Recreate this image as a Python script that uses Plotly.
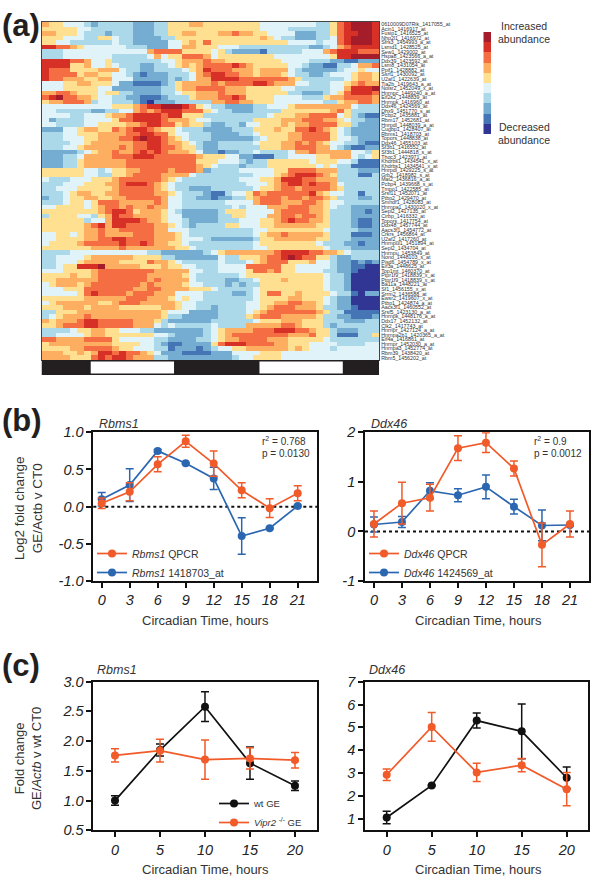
import plotly.graph_objects as go

W, H = 600, 880

heat_rows = [
"65544432 33333222 33555665 55555554 44444443 35789998",
"55555443 33333222 33555555 55555554 44433333 35789998",
"66555433 32333222 33556655 56676655 44442223 35788998",
"55544433 55433222 23355555 55555556 54332223 34789998",
"55443333 33433222 22445657 55555555 55544443 44789998",
"88776544 44443332 22446655 54443333 33333322 34678888",
"33344444 44444446 77775555 45322221 33333444 67888777",
"33344444 44333334 64557776 45555555 54444444 45889999",
"88887764 45333333 34456667 66555555 55444433 32211222",
"88885564 45433322 33456567 77787655 55544322 11334667",
"87775555 66643322 33334568 77766656 66643222 22344544",
"87777566 55443212 22333467 88776656 66543322 34445665",
"87766655 66444222 22323466 88887777 77765333 33345665",
"44455665 55422111 12356666 76777788 76664433 34456766",
"44455555 44222222 23356677 77666555 55443333 34468889",
"66776555 45533222 23345566 67666555 55533222 34578887",
"78977665 44332211 12333566 67787555 54444333 56677776",
"56677763 44333210 22233333 66776655 54444444 33566776",
"44444444 44555678 89998754 33222233 44456666 66664333",
"44333332 23344676 78887775 43322233 33555555 56753333",
"44443344 45667888 87885553 33333333 45556677 77453211",
"42333344 44577888 87666544 33333355 55666777 66543322",
"44333344 55556678 87756553 22332445 55656677 77553222",
"22244566 55767887 65543332 22233355 56557787 65432222",
"33344555 66667788 77544333 22223345 55566777 75432222",
"33344455 66677898 87654333 22222234 55566777 75443222",
"33334456 66666778 87665432 23333345 55667676 54433211",
"33344566 66676778 87765532 23333335 55667776 64321122",
"22222345 66766787 87666542 21223343 33346676 66664435",
"22233466 66777888 77777765 55442211 13344445 56664345",
"22233566 66667777 77777755 54443233 55555545 55443111",
"22233566 66667777 77777765 43332333 55555554 54331111",
"55555544 34556677 77677762 33334444 45577776 66333222",
"55555544 33556777 76666433 33333344 45678887 65333113",
"43334445 55677777 76543333 33334445 56888776 66333333",
"33344455 56678887 65433333 33333444 56788787 76433333",
"33444555 55677777 65433222 33333345 56776777 76533333",
"33345665 56677777 66543332 11344576 77777786 54433133",
"23345566 55667777 76443322 12233567 77677677 65333223",
"33345545 77766666 76443333 33444467 77666776 54433333",
"44555545 67767667 66443333 33343444 66677766 54332222",
"55555555 67887566 65432222 23555444 46777766 53332212",
"35555443 56877666 65442222 23355444 66776776 53332222",
"55555534 46888876 65443222 23334445 56787766 53332112",
"55555567 86887777 66543233 33554445 56666665 53332112",
"55555566 76677777 66444333 33333344 55555555 43333222",
"44554566 76666777 66654333 33333345 66766666 53331112",
"44555566 77887777 66654443 22222235 56666665 53332222",
"45555677 77787787 66554333 33333345 55555554 33322122",
"55555556 66676666 66655433 33333344 55555555 43332222",
"33334444 44444443 32222223 45666666 67888877 66543333",
"33444456 66666555 53322222 24335556 77898775 53223333",
"33444566 66655557 66543333 34333456 77755564 43221212",
"33455888 96666655 56554433 34444777 77554444 43221100",
"44455556 77777777 66666443 34444577 67554444 33221000",
"55556556 77777776 66665433 33334555 55555555 43320000",
"55666666 77777776 76666433 33223345 55655555 43320000",
"45666567 77777767 66665443 33232335 55555555 43320000",
"44455577 77777667 76666555 43333345 55555555 43320000",
"44444578 77776777 66644443 33322345 77556555 54331022",
"55555566 66667776 66545443 33333345 55566555 43220000",
"45666666 55677766 66654433 33333445 56677665 43220000",
"55566656 66655555 56654433 23333445 67776665 33221000",
"33555666 66666666 65444222 23333456 77777776 53311111",
"34566676 66666666 65332222 23333567 77666665 33221112",
"65666788 77777666 53222222 33333345 55666555 33322233",
"55677788 77777666 43433333 43333666 66776555 32333333",
"33334556 65544433 22222223 45666677 78887765 53222333",
"33444456 65555555 44322223 45677777 77766675 53111335",
"77666677 77544444 33222233 45667777 66655555 43333333",
"56666666 66555544 32112222 57888777 76655544 44333344",
"55556677 77655444 33122212 34455666 66656544 43444444",
"66655656 88787765 42221111 22244445 55444444 44444444",
"66665557 87887666 33222222 22234455 55444444 44444444",
]

probe_labels = [
"0610009D07Rik_1417055_at","Acin1_1416917_at","Fusip1_1416525_at","Nhp2l1_1416972_at","Sfrs3_1454993_a_at",
"Lsmd1_1428525_at","Sew1_1429002_at","Hspa8_1423566_a_at","Ddx39_1423592_at","Lsm8_1431054_at",
"Ppif1_1428882_at","Ssrf1_1430092_at","U2af1_1422639_at","Tia2b_1419643_a_at","Nolsr2_1452049_x_at",
"Hnrnpc_1449240_a_at","Eif2s2_1448839_at","Hnrnpk_1416960_at","Ddx46_1424569_at","Dhx9_1451770_s_at",
"Pcbp2_1435881_at","Rbm17_1452681_at","Hnrpdl_1448039_a_at","Cugbp1_1428407_at","Rbms1_1418703_at",
"Topors_1448838_at","Ddx46_1455103_at","Sf3b1_1416552_at","Sf3b1_1444818_s_at","Thoc3_1423971_at",
"Khdrbs1_1434541_x_at","Khdrbs1_1434541_x_at","Hnrpdl_1429225_s_at","Grb2_1418982_s_at","Mat2_1436816_a_at",
"Pcbp4_1439668_s_at","Tmpo1_1422585_at","Srsf11_1452071_at","Ptbp2_1429470_at","Smndr1_1428083_at",
"Hnrnpa1_1430020_x_at","Sepl2_1417135_at","Cirbp_1416332_at","Topors_1417754_at","Ddx48_1457744_at",
"Aacs3f1_1454772_at","Crkrs_1456864_at","U2af2_1417260_at","Hnrnpul1_1451894_at","Sepl2_1434704_at",
"Hnrnpu_1453849_at","Nono_1448103_s_at","Pisd6_1454789_x_at","Eif3a_1448625_at","Top1mt_1460370_at",
"Ptpr1f9_1418839_x_at","Ptpr1f9_1418839_x_at","Ba11a_1448221_at","Sf1_1456155_x_at","Srrm2_1436588_at",
"Ewsr2_1419607_x_at","Ptbp1_1424874_a_at","Aacs3f1_1460552_at","Srsf5_1423130_a_at","Hnrnpk_1448176_a_at",
"Ddx17_1452132_at","Clk2_1417743_at","Hnrnpr_1427124_a_at","Hnrnpa2b1_1420365_a_at","Eif4a_1416861_at",
"Hnrnpr_1452030_a_at","Hnrnpa3_1452774_at","Rbm39_1438420_at","Rbm5_1456202_at",
]

level_colors = ["#313695","#4575b4","#74add1","#abd9e9","#e0f3f8","#fee090","#fdae61","#f46d43","#d73027","#a51c2a"]
legend_levels = [[9],[8],[7],[6],[5],[4],[3],[2],[1],[0]]

phase_starts = [7, 31]
phase_widths = [11.85, 11.85]

ct_b = [0, 3, 6, 9, 12, 15, 18, 21]
ct_c = [0, 5, 10, 15, 20]

b1_qpcr = [0.045, 0.20, 0.57, 0.88, 0.58, 0.22, -0.02, 0.18]
b1_qpcr_err = [0.07, 0.12, 0.10, 0.08, 0.17, 0.10, 0.125, 0.10]
b1_array = [0.10, 0.29, 0.75, 0.585, 0.38, -0.395, -0.29, 0.01]
b1_array_err = [0.09, 0.22, 0.02, 0.01, 0.15, 0.245, 0.01, 0.01]

b2_qpcr = [0.15, 0.57, 0.68, 1.68, 1.79, 1.27, -0.27, 0.15]
b2_qpcr_err = [0.26, 0.42, 0.27, 0.25, 0.20, 0.15, 0.44, 0.26]
b2_array = [0.14, 0.19, 0.82, 0.73, 0.90, 0.50, 0.12, 0.13]
b2_array_err = [0.15, 0.11, 0.16, 0.13, 0.24, 0.15, 0.31, 0.02]

c1_wt = [1.0, 1.85, 2.58, 1.63, 1.25]
c1_wt_err = [0.08, 0.10, 0.25, 0.27, 0.08]
c1_ko = [1.76, 1.84, 1.69, 1.71, 1.68]
c1_ko_err = [0.11, 0.19, 0.33, 0.18, 0.13]

c2_wt = [1.06, 2.46, 5.30, 4.83, 2.80]
c2_wt_err = [0.27, 0.02, 0.33, 1.20, 0.47]
c2_ko = [2.93, 5.02, 3.03, 3.35, 2.30]
c2_ko_err = [0.25, 0.63, 0.40, 0.29, 0.73]

ORANGE, BLUE, BLACK = "#f15a29", "#2b67b1", "#111111"
FONT = "Liberation Sans"
TXT = "#333333"

def xd(a, b): return [a / W, b / W]
def yd(top, bot): return [1 - bot / H, 1 - top / H]

grid = [[int(c) for c in r.replace(" ", "")] for r in heat_rows]
n = len(level_colors)
scale = []
for i, c in enumerate(level_colors):
    scale += [[i / n, c], [(i + 1) / n, c]]

fig = go.Figure()
fig.add_trace(go.Heatmap(z=grid, x=list(range(48)), y=list(range(len(grid))), colorscale=scale,
                         zmin=-0.5, zmax=9.5, showscale=False, xaxis="x", yaxis="y", hoverinfo="skip"))
fig.add_trace(go.Bar(y=[0], x=[48], base=[0], width=[1], orientation="h", marker=dict(color="#231f20", line_width=0),
                     xaxis="x2", yaxis="y2", showlegend=False))
fig.add_trace(go.Bar(y=[0, 0], x=phase_widths, base=phase_starts, width=[0.8, 0.8], orientation="h",
                     marker=dict(color="white", line_width=0), xaxis="x2", yaxis="y2", showlegend=False))
fig.add_trace(go.Heatmap(z=legend_levels, colorscale=scale, zmin=-0.5, zmax=9.5, showscale=False,
                         xaxis="x3", yaxis="y3", hoverinfo="skip"))

def series(x, y, e, color, name, ax, legend, show=True):
    fig.add_trace(go.Scatter(x=x, y=y, name=name, mode="lines+markers",
                             line=dict(color=color, width=1.7),
                             marker=dict(color=color, size=8),
                             error_y=dict(type="data", array=e, color=color, thickness=1.5, width=4),
                             xaxis="x" + ax, yaxis="y" + ax, legend=legend, showlegend=show))

series(ct_b, b1_array, b1_array_err, BLUE, "<i>Rbms1</i> 1418703_at", "4", "legend")
series(ct_b, b1_qpcr, b1_qpcr_err, ORANGE, "<i>Rbms1</i> QPCR", "4", "legend")
series(ct_b, b2_array, b2_array_err, BLUE, "<i>Ddx46</i> 1424569_at", "5", "legend2")
series(ct_b, b2_qpcr, b2_qpcr_err, ORANGE, "<i>Ddx46</i> QPCR", "5", "legend2")
series(ct_c, c1_wt, c1_wt_err, BLACK, "wt GE", "6", "legend3")
series(ct_c, c1_ko, c1_ko_err, ORANGE, "<i>Vipr2</i> <sup>-/-</sup> GE", "6", "legend3")
series(ct_c, c2_wt, c2_wt_err, BLACK, "wt GE", "7", "legend", False)
series(ct_c, c2_ko, c2_ko_err, ORANGE, "<i>Vipr2</i> <sup>-/-</sup> GE", "7", "legend", False)

tickfont = dict(family=FONT, size=14.5, color="#222222", style="italic")
def xaxis_line(dom, rng, vals, anchor):
    return dict(domain=dom, range=rng, anchor=anchor, tickmode="array", tickvals=vals, ticks="outside", ticklen=5,
                tickwidth=1.5, tickcolor="#111", showline=True, linecolor="#111", linewidth=1.7, mirror=True,
                showgrid=False, zeroline=False, tickfont=tickfont)
def yaxis_line(dom, rng, vals, txt, anchor):
    return dict(domain=dom, range=rng, anchor=anchor, tickmode="array", tickvals=vals, ticktext=txt, ticks="outside",
                ticklen=5, tickwidth=1.5, tickcolor="#111", showline=True, linecolor="#111", linewidth=1.7, mirror=True,
                showgrid=False, zeroline=False, tickfont=tickfont)

def leg(x, y, size=10.5, order="reversed"):
    return dict(x=x / W, y=1 - y / H, xanchor="left", yanchor="top", bgcolor="rgba(0,0,0,0)", borderwidth=0,
                traceorder=order, font=dict(family=FONT, size=size, color=TXT), itemwidth=30)

fig.update_layout(
    width=W, height=H, margin=dict(l=0, r=0, t=0, b=0, autoexpand=False), paper_bgcolor="white", plot_bgcolor="white",
    barmode="overlay", font=dict(family=FONT, color=TXT),
    xaxis=dict(domain=xd(41.5, 379), range=[-0.5, 47.5], anchor="y", showticklabels=False, ticks="", showgrid=False,
               zeroline=False, showline=True, linecolor="#444", linewidth=1.3, mirror=True),
    yaxis=dict(domain=yd(22, 360), range=[73.5, -0.5], anchor="x", side="right", tickmode="array",
               tickvals=list(range(len(probe_labels))), ticktext=probe_labels, ticks="", ticklen=0, showgrid=False,
               zeroline=False, showline=True, linecolor="#444", linewidth=1.3, mirror=True,
               tickfont=dict(family=FONT, size=5.3, color="#333")),
    xaxis2=dict(domain=xd(41.5, 379), range=[0, 48], anchor="y2", visible=False),
    yaxis2=dict(domain=yd(360, 375), range=[-0.5, 0.5], anchor="x2", visible=False),
    xaxis3=dict(domain=xd(483.3, 491), anchor="y3", visible=False),
    yaxis3=dict(domain=yd(32, 134), range=[9.5, -0.5], anchor="x3", visible=False),
    xaxis4=xaxis_line(xd(93.3, 317.3), [-0.9, 23.1], ct_b, "y4"),
    yaxis4=yaxis_line(yd(432.3, 581), [-1, 1], [-1, -0.5, 0, 0.5, 1], ["-1.0", "-0.5", "0.0", "0.5", "1.0"], "x4"),
    xaxis5=xaxis_line(xd(365, 589), [-0.96, 23.04], ct_b, "y5"),
    yaxis5=yaxis_line(yd(432.3, 581), [-1, 2], [-1, 0, 1, 2], ["-1", "0", "1", "2"], "x5"),
    xaxis6=xaxis_line(xd(93.3, 317.3), [-2.41, 22.48], ct_c, "y6"),
    yaxis6=yaxis_line(yd(681.7, 830.3), [0.5, 3], [0.5, 1, 1.5, 2, 2.5, 3],
                      ["0.5", "1.0", "1.5", "2.0", "2.5", "3.0"], "x6"),
    xaxis7=xaxis_line(xd(365, 588.3), [-2.41, 22.4], ct_c, "y7"),
    yaxis7=yaxis_line(yd(681.7, 830.3), [0.5, 7], [1, 2, 3, 4, 5, 6, 7], ["1", "2", "3", "4", "5", "6", "7"], "x7"),
    legend=leg(92, 539),
    legend2=leg(364, 539),
    legend3=leg(214, 789, 9.5, "normal"),
)

for ax in ["x4", "x5"]:
    fig.add_shape(type="line", xref=ax + " domain", yref="y" + ax[1:], x0=0, x1=1, y0=0, y1=0, layer="below",
                  line=dict(color="#111", width=2, dash="3px,3px"))

def note(x, y, text, size=13, color=TXT, xanchor="center", angle=0, italic=False, bold=False):
    fig.add_annotation(x=x / W, y=1 - y / H, xref="paper", yref="paper", text=text, showarrow=False, textangle=angle,
                       xanchor=xanchor, yanchor="middle", align="center",
                       font=dict(family=FONT, size=size, color=color, style="italic" if italic else "normal",
                                 weight="bold" if bold else "normal"))

note(0, 26, "(a)", 31, "#231f20", "left", bold=True)
note(0, 420, "(b)", 31, "#231f20", "left", bold=True)
note(0, 665, "(c)", 31, "#231f20", "left", bold=True)
note(524, 26, "Increased", 10.5)
note(524, 39, "abundance", 10.5)
note(524, 127, "Decreased", 10.5)
note(524, 140, "abundance", 10.5)
note(97, 424, "Rbms1", 12.5, xanchor="left", italic=True)
note(369, 424, "Ddx46", 12.5, xanchor="left", italic=True)
note(95, 670, "Rbms1", 12.5, xanchor="left", italic=True)
note(367, 670, "Ddx46", 12.5, xanchor="left", italic=True)
note(260, 441, "r<sup>2</sup> = 0.768", 10, xanchor="left")
note(260, 454, "p = 0.0130", 10, xanchor="left")
note(532, 441, "r<sup>2</sup> = 0.9", 10, xanchor="left")
note(532, 454, "p = 0.0012", 10, xanchor="left")
note(205, 620, "Circadian Time, hours", 13)
note(478, 620, "Circadian Time, hours", 13)
note(205, 869, "Circadian Time, hours", 13)
note(478, 869, "Circadian Time, hours", 13)
note(28, 508, "Log2 fold change<br>GE/Actb v CT0", 13.5, angle=-90)
note(28, 759, "Fold change<br>GE/<i>Actb</i> v wt CT0", 13, angle=-90)

fig.write_html("out.html", config=dict(displayModeBar=False),
               post_script="document.body.style.margin='0';document.documentElement.style.overflow='hidden';")
